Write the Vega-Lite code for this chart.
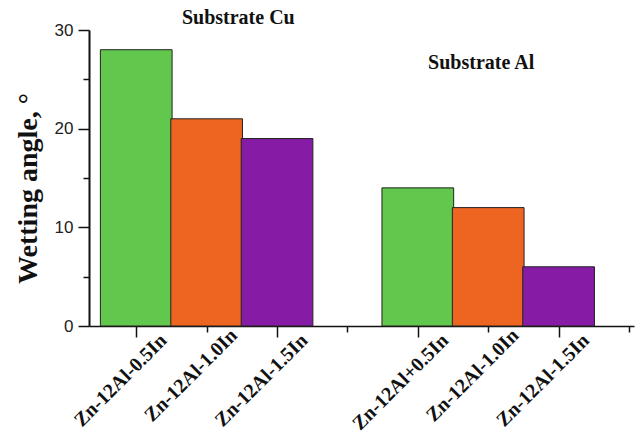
{
  "$schema": "https://vega.github.io/schema/vega-lite/v6.json",
  "width": 545,
  "height": 296,
  "autosize": {"type": "none"},
  "padding": {"left": 89, "top": 30, "right": 8, "bottom": 112},
  "background": "white",
  "config": {"view": {"stroke": null}},
  "datasets": {
    "bars": [
      {"substrate": "Cu", "alloy": "0.5In", "slot": 1, "angle": 28},
      {"substrate": "Cu", "alloy": "1.0In", "slot": 2, "angle": 21},
      {"substrate": "Cu", "alloy": "1.5In", "slot": 3, "angle": 19},
      {"substrate": "Al", "alloy": "0.5In", "slot": 5, "angle": 14},
      {"substrate": "Al", "alloy": "1.0In", "slot": 6, "angle": 12},
      {"substrate": "Al", "alloy": "1.5In", "slot": 7, "angle": 6}
    ],
    "titles": [
      {"text": "Substrate Cu", "pos": 2.45, "angle": 30.6},
      {"text": "Substrate Al", "pos": 5.9, "angle": 26.05}
    ]
  },
  "layer": [
    {
      "data": {"name": "bars"},
      "mark": {"type": "bar", "width": 71.7, "stroke": "#222222", "strokeWidth": 1},
      "encoding": {
        "x": {
          "field": "slot",
          "type": "quantitative",
          "scale": {"domain": [0.4, 8], "nice": false, "zero": false},
          "axis": {
            "values": [1, 2, 3, 4, 5, 6, 7, 8],
            "title": null,
            "grid": false,
            "domainColor": "#111111",
            "domainWidth": 1.5,
            "tickColor": "#111111",
            "tickWidth": 1.5,
            "tickSize": {"condition": {"test": "datum.value % 2 === 1", "value": 11}, "value": 6},
            "labelExpr": "['', 'Zn-12Al-0.5In', 'Zn-12Al-1.0In', 'Zn-12Al-1.5In', '', 'Zn-12Al+0.5In', 'Zn-12Al-1.0In', 'Zn-12Al-1.5In', ''][datum.value]",
            "labelAngle": -45,
            "labelAlign": "right",
            "labelBaseline": "middle",
            "labelFont": "Liberation Serif",
            "labelFontWeight": "bold",
            "labelFontSize": 20,
            "labelColor": "#111111",
            "labelOffset": 27,
            "labelPadding": 0,
            "labelOverlap": false,
            "labelBound": false,
            "labelFlush": false
          }
        },
        "y": {
          "field": "angle",
          "type": "quantitative",
          "scale": {"domain": [0, 30], "nice": false},
          "axis": {
            "values": [0, 5, 10, 15, 20, 25, 30],
            "grid": false,
            "title": "Wetting angle, °",
            "titleFont": "Liberation Serif",
            "titleFontWeight": "bold",
            "titleFontSize": 28,
            "titleColor": "#111111",
            "titlePadding": 12,
            "titleY": 158,
            "domainColor": "#111111",
            "domainWidth": 2,
            "tickColor": "#111111",
            "tickWidth": 1.5,
            "tickSize": {"condition": {"test": "datum.value % 10 === 0", "value": 11}, "value": 6},
            "labelExpr": "datum.value % 10 === 0 ? datum.label : ''",
            "labelFont": "Liberation Sans",
            "labelFontSize": 17,
            "labelColor": "#222222",
            "labelPadding": 5
          }
        },
        "color": {
          "field": "alloy",
          "type": "nominal",
          "scale": {"domain": ["0.5In", "1.0In", "1.5In"], "range": ["#62C74D", "#EE6521", "#861CA5"]},
          "legend": null
        }
      }
    },
    {
      "data": {"name": "titles"},
      "mark": {"type": "text", "font": "Liberation Serif", "fontWeight": "bold", "fontSize": 20, "align": "center", "baseline": "alphabetic", "color": "#111111"},
      "encoding": {
        "x": {"field": "pos", "type": "quantitative"},
        "y": {"field": "angle", "type": "quantitative"},
        "text": {"field": "text"}
      }
    }
  ]
}
